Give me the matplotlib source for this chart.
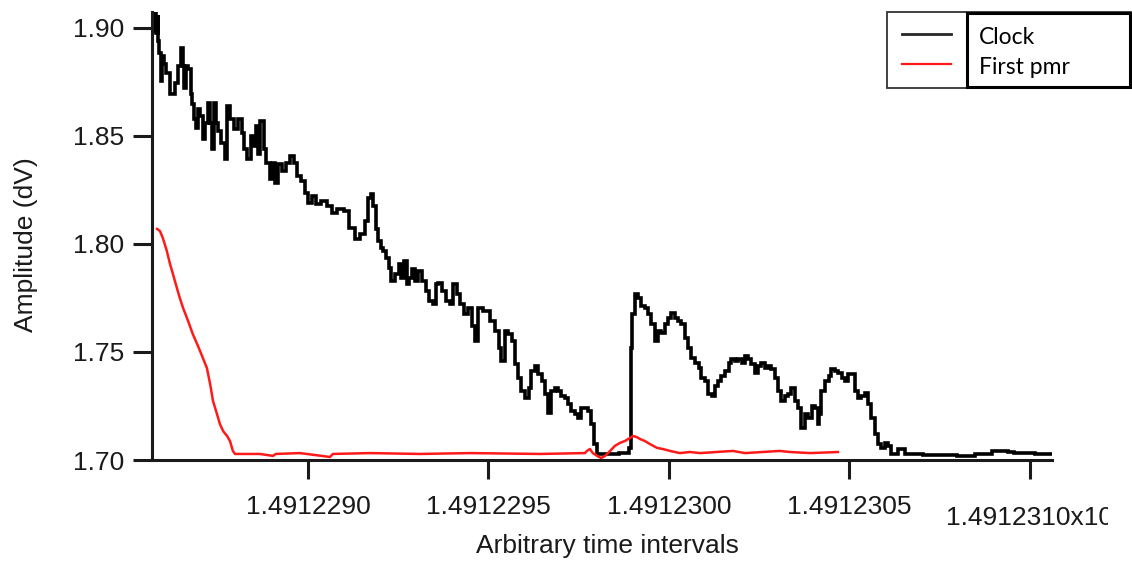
import matplotlib
matplotlib.use("Agg")
import matplotlib.pyplot as plt
from matplotlib.patches import Rectangle
from matplotlib.lines import Line2D
from matplotlib.transforms import Bbox, TransformedBbox

# time axis: values are offsets in units of 1e-7 after T0
T0 = 1.49122

clock_t = [85.73, 85.76, 85.82, 85.85, 85.87, 85.90, 85.96, 85.98, 86.04, 86.12,
           86.26, 86.37, 86.45, 86.51, 86.57, 86.59, 86.65, 86.73, 86.79, 86.81,
           86.87, 86.93, 86.98, 87.04, 87.12, 87.20, 87.26, 87.31, 87.37, 87.42,
           87.48, 87.56, 87.65, 87.73, 87.78, 87.89, 88.01, 88.12, 88.20, 88.28,
           88.37, 88.45, 88.53, 88.59, 88.64, 88.73, 88.81, 88.89, 89.00, 89.06,
           89.14, 89.22, 89.34, 89.45, 89.56, 89.67, 89.75, 89.86, 89.97, 90.06,
           90.17, 90.28, 90.47, 90.61, 90.72, 90.89, 91.08, 91.22, 91.39, 91.52,
           91.63, 91.72, 91.77, 91.86, 91.91, 91.99, 92.05, 92.13, 92.22, 92.27,
           92.35, 92.47, 92.55, 92.63, 92.69, 92.77, 92.83, 92.91, 93.02, 93.10,
           93.24, 93.32, 93.41, 93.52, 93.57, 93.66, 93.79, 93.88, 93.99, 94.07,
           94.16, 94.27, 94.38, 94.49, 94.60, 94.68, 94.76, 94.96, 95.12, 95.24,
           95.32, 95.40, 95.51, 95.60, 95.68, 95.79, 95.87, 95.96, 96.07, 96.15,
           96.23, 96.34, 96.43, 96.51, 96.62, 96.70, 96.79, 96.90, 96.98, 97.06,
           97.17, 97.26, 97.34, 97.45, 97.53, 97.62, 97.73, 97.81, 97.89, 97.98,
           98.03, 98.37, 98.84, 98.92, 98.95, 99.00, 99.11, 99.17, 99.28, 99.39,
           99.47, 99.56, 99.67, 99.75, 99.83, 99.94, 100.03, 100.11, 100.22, 100.30,
           100.39, 100.50, 100.58, 100.66, 100.78, 100.86, 100.94, 101.05, 101.14, 101.22,
           101.33, 101.41, 101.50, 101.61, 101.69, 101.77, 101.88, 101.97, 102.05, 102.16,
           102.24, 102.33, 102.44, 102.52, 102.60, 102.71, 102.80, 102.88, 102.99, 103.07,
           103.16, 103.27, 103.35, 103.43, 103.54, 103.63, 103.71, 103.82, 103.91, 103.99,
           104.10, 104.13, 104.18, 104.27, 104.38, 104.46, 104.54, 104.65, 104.74, 104.82,
           104.93, 105.01, 105.10, 105.21, 105.29, 105.37, 105.48, 105.57, 105.65, 105.76,
           105.84, 105.93, 106.04, 106.12, 106.20, 106.48, 106.59, 107.51, 108.42, 108.56,
           109.31, 109.45, 109.67, 110.61]
clock_v = [1.8986, 1.9070, 1.8977, 1.9060, 1.8940, 1.8884, 1.8755, 1.8871, 1.8833, 1.8792,
           1.8695, 1.8745, 1.8824, 1.8908, 1.8824, 1.8722, 1.8824, 1.8810, 1.8695, 1.8648,
           1.8579, 1.8537, 1.8625, 1.8593, 1.8486, 1.8560, 1.8653, 1.8560, 1.8440, 1.8653,
           1.8560, 1.8523, 1.8468, 1.8394, 1.8639, 1.8579, 1.8533, 1.8579, 1.8514, 1.8440,
           1.8394, 1.8500, 1.8454, 1.8546, 1.8417, 1.8570, 1.8440, 1.8375, 1.8301, 1.8375,
           1.8283, 1.8370, 1.8338, 1.8375, 1.8408, 1.8375, 1.8315, 1.8292, 1.8236, 1.8190,
           1.8222, 1.8185, 1.8199, 1.8176, 1.8144, 1.8162, 1.8153, 1.8074, 1.8023, 1.8046,
           1.8107, 1.8213, 1.8232, 1.8176, 1.8070, 1.8014, 1.7982, 1.7968, 1.7935, 1.7889,
           1.7829, 1.7861, 1.7907, 1.7843, 1.7921, 1.7815, 1.7843, 1.7884, 1.7829, 1.7875,
           1.7829, 1.7782, 1.7736, 1.7722, 1.7815, 1.7820, 1.7782, 1.7736, 1.7722, 1.7815,
           1.7769, 1.7722, 1.7676, 1.7704, 1.7620, 1.7551, 1.7704, 1.7690, 1.7644, 1.7597,
           1.7519, 1.7458, 1.7597, 1.7583, 1.7551, 1.7444, 1.7380, 1.7319, 1.7287, 1.7333,
           1.7412, 1.7435, 1.7398, 1.7366, 1.7306, 1.7218, 1.7319, 1.7333, 1.7319, 1.7296,
           1.7287, 1.7259, 1.7227, 1.7213, 1.7194, 1.7241, 1.7241, 1.7227, 1.7167, 1.7074,
           1.7028, 1.7028, 1.7032, 1.7056, 1.7519, 1.7676, 1.7769, 1.7750, 1.7713, 1.7704,
           1.7676, 1.7630, 1.7551, 1.7597, 1.7588, 1.7630, 1.7657, 1.7681, 1.7657, 1.7644,
           1.7630, 1.7565, 1.7519, 1.7472, 1.7449, 1.7426, 1.7380, 1.7366, 1.7306, 1.7296,
           1.7343, 1.7366, 1.7389, 1.7412, 1.7449, 1.7468, 1.7458, 1.7468, 1.7449, 1.7482,
           1.7468, 1.7444, 1.7403, 1.7435, 1.7449, 1.7426, 1.7435, 1.7421, 1.7380, 1.7319,
           1.7273, 1.7296, 1.7306, 1.7333, 1.7273, 1.7241, 1.7148, 1.7213, 1.7194, 1.7250,
           1.7241, 1.7167, 1.7213, 1.7319, 1.7366, 1.7389, 1.7421, 1.7412, 1.7403, 1.7380,
           1.7366, 1.7398, 1.7398, 1.7319, 1.7287, 1.7296, 1.7310, 1.7259, 1.7194, 1.7120,
           1.7074, 1.7056, 1.7079, 1.7065, 1.7028, 1.7051, 1.7028, 1.7023, 1.7019, 1.7028,
           1.7042, 1.7037, 1.7032, 1.7028]

pmr_t = [85.82, 85.90, 85.98, 86.09, 86.18, 86.26, 86.37, 86.45, 86.54, 86.65,
         86.73, 86.81, 86.93, 87.01, 87.09, 87.20, 87.29, 87.37, 87.48, 87.56,
         87.65, 87.76, 87.84, 87.92, 87.98, 88.67, 89.03, 89.11, 89.78, 90.61,
         90.69, 91.72, 93.10, 94.49, 96.43, 97.67, 97.73, 97.81, 97.89, 98.01,
         98.12, 98.23, 98.37, 98.50, 98.64, 98.78, 98.92, 99.00, 99.11, 99.20,
         99.33, 99.47, 99.67, 99.83, 100.03, 100.30, 100.58, 100.86, 101.77, 102.11,
         103.07, 103.35, 103.91, 104.68]
pmr_v = [1.8070, 1.8060, 1.8028, 1.7968, 1.7907, 1.7861, 1.7796, 1.7750, 1.7704, 1.7657,
         1.7620, 1.7583, 1.7537, 1.7505, 1.7472, 1.7426, 1.7352, 1.7273, 1.7213, 1.7167,
         1.7134, 1.7111, 1.7088, 1.7042, 1.7028, 1.7028, 1.7019, 1.7028, 1.7032, 1.7014,
         1.7028, 1.7032, 1.7028, 1.7032, 1.7028, 1.7032, 1.7042, 1.7051, 1.7032, 1.7019,
         1.7009, 1.7019, 1.7042, 1.7065, 1.7079, 1.7088, 1.7102, 1.7111, 1.7106, 1.7097,
         1.7088, 1.7074, 1.7056, 1.7051, 1.7042, 1.7032, 1.7037, 1.7032, 1.7042, 1.7032,
         1.7042, 1.7037, 1.7032, 1.7037]

series_labels = ["Clock", "First pmr"]
series_colors = ["black", "#ff1a1a"]
x_ticks = [90, 95, 100, 105, 110]
y_ticks = [1.70, 1.75, 1.80, 1.85, 1.90]

plt.rcParams['font.family'] = ['Liberation Sans', 'DejaVu Sans']

W, H = 1132, 562
fig = plt.figure(figsize=(W / 100, H / 100), dpi=100)
ax = fig.add_axes([152 / W, 1 - 460 / H, 900 / W, 448 / H])

ax.plot(clock_t, clock_v, color=series_colors[0], linewidth=2.6,
        drawstyle='steps-mid', solid_joinstyle='miter')
ax.plot(pmr_t, pmr_v, color=series_colors[1], linewidth=1.8)

ax.set_xlim(85.68, 110.61)
ax.set_ylim(1.70, 1.9074)

for side in ['top', 'right']:
    ax.spines[side].set_visible(False)
for side in ['left', 'bottom']:
    ax.spines[side].set_linewidth(2.2)
    ax.spines[side].set_color('#1a1a1a')

ax.set_yticks(y_ticks, [f"{v:.2f}" for v in y_ticks])
xlabels = [f"{T0 + v * 1e-7:.7f}" for v in x_ticks]
xlabels[-1] = xlabels[-1] + "x10"
ax.set_xticks(x_ticks, xlabels)
ax.tick_params(axis='both', direction='out', length=14, width=2.2, color='#1a1a1a',
               labelsize=19, labelcolor='#1a1a1a')
ax.tick_params(axis='y', pad=6)
ax.tick_params(axis='x', pad=11)

ax.xaxis.get_major_ticks()[-1].set_pad(19)
last = ax.get_xticklabels()[-1]
last.set_clip_box(TransformedBbox(Bbox.from_extents(0, 0, 1108 / W, 1), fig.transFigure))
last.set_clip_on(True)

ax.set_xlabel("Arbitrary time intervals", fontsize=19, color='#1a1a1a')
ax.set_ylabel("Amplitude (dV)", fontsize=19, color='#1a1a1a')
ax.xaxis.set_label_coords(0.5056, -0.165)
ax.yaxis.set_label_coords(-0.127, 0.48)

# legend box drawn in figure pixels
def fx(px):
    return px / W

def fy(py):
    return 1 - py / H

fig.add_artist(Rectangle((fx(887), fy(88)), fx(1131) - fx(887), fy(12) - fy(88),
                         transform=fig.transFigure, fill=False, lw=1.3, edgecolor='#333333'))
fig.add_artist(Rectangle((fx(967), fy(87)), fx(1130) - fx(967), fy(13) - fy(87),
                         transform=fig.transFigure, fill=False, lw=2.2, edgecolor='black'))
for i, (lab, col) in enumerate(zip(series_labels, series_colors)):
    yy = 34 + 30 * i
    fig.add_artist(Line2D([fx(902), fx(951)], [fy(yy), fy(yy)], transform=fig.transFigure,
                          color=col, lw=2 if i == 0 else 1.6, alpha=0.85 if i == 0 else 1))
    fig.text(fx(979), fy(yy + 3), lab, fontsize=16.5, family=['Lato', 'DejaVu Sans'],
             va='center', ha='left', color='black')

fig.savefig("out.png", dpi=100)
